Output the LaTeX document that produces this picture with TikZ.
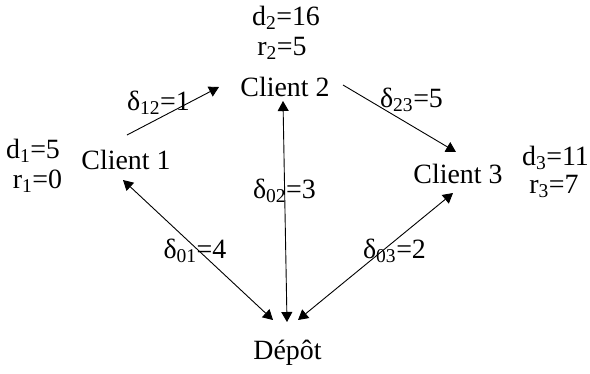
\documentclass[tikz,border=0pt]{standalone}
\usepackage{fontspec}
\setmainfont{Liberation Serif}
\usetikzlibrary{arrows.meta}
\tikzset{
  lbl/.style={anchor=base, inner sep=0pt, font=\fontsize{28}{32}\selectfont},
  link/.style={-{Triangle[length=10bp,width=11bp]}, line width=0.9bp},
  bilink/.style={{Triangle[length=10bp,width=11bp]}-{Triangle[length=10bp,width=11bp]},
                 line width=0.9bp},
}
\begin{document}
\begin{tikzpicture}[x=1bp, y=-1bp]
  \useasboundingbox (0,0) rectangle (590,373);
  % clients et depot
  \node[lbl] (c1) at (126,169) {Client 1};
  \node[lbl] (c2) at (285,96) {Client 2};
  \node[lbl] (c3) at (458,183) {Client 3};
  \node[lbl] (dep) at (287.5,359) {Dépôt};
  % d et r de chaque client
  \foreach \n/\x/\y/\t in {d1/33/158/d\textsubscript{1}=5, r1/37.5/188/r\textsubscript{1}=0,
                           d2/286/25/d\textsubscript{2}=16, r2/282/55/r\textsubscript{2}=5,
                           d3/555.5/165/d\textsubscript{3}=11, r3/554/193/r\textsubscript{3}=7}
    \node[lbl] (\n) at (\x,\y) {\t};
  % distances
  \foreach \n/\x/\y/\s/\v in {e12/158.5/110/12/1, e23/411.5/107/23/5, e02/284.5/198/02/3,
                              e01/195/258/01/4, e03/394.5/258/03/2}
    \node[lbl] (\n) at (\x,\y) {δ\textsubscript{\s}=\v};
  % arcs
  \draw[link] ([shift={(1bp,34bp)}]c1.base) -- ([shift={(-66bp,9bp)}]c2.base);
  \draw[link] ([shift={(58bp,11bp)}]c2.base) -- ([shift={(-2bp,31bp)}]c3.base);
  \draw[bilink] ([shift={(-2bp,-5bp)}]c2.base) -- ([shift={(-0.5bp,37bp)}]dep.base);
  \draw[bilink] ([shift={(-3bp,-11bp)}]c1.base) -- ([shift={(-14.5bp,39bp)}]dep.base);
  \draw[bilink] ([shift={(-5bp,-10bp)}]c3.base) -- ([shift={(10.5bp,39bp)}]dep.base);
\end{tikzpicture}
\end{document}
